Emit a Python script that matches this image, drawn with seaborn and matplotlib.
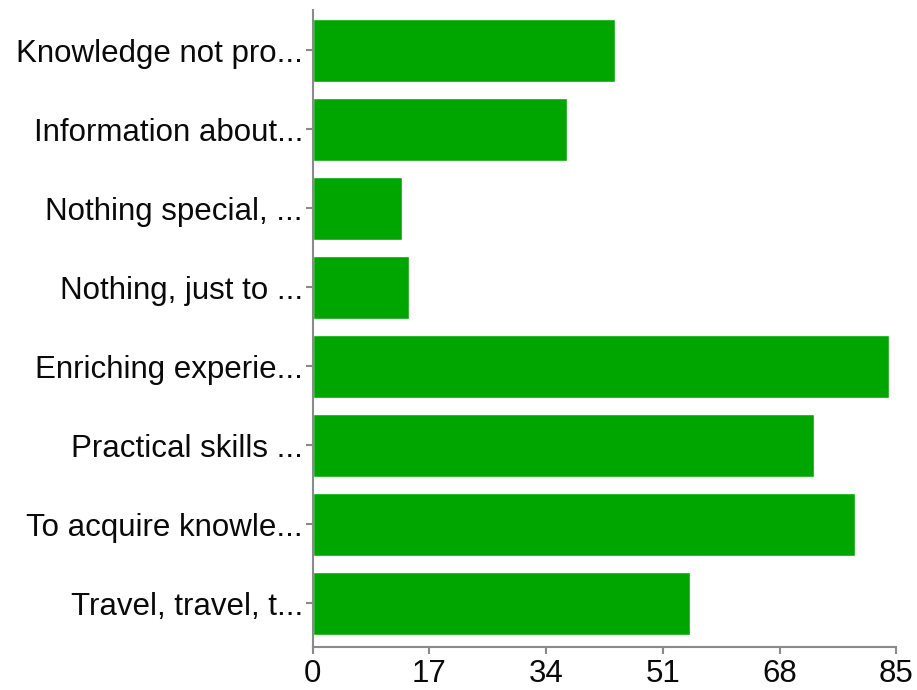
import matplotlib
matplotlib.use("Agg")
import matplotlib.pyplot as plt
import seaborn as sns
import pandas as pd

# answers (truncated like in the original chart) and counts
labels = ["Knowledge not pro...", "Information about...", "Nothing special, ...",
          "Nothing, just to ...", "Enriching experie...", "Practical skills ...",
          "To acquire knowle...", "Travel, travel, t..."]
counts = [44, 37, 13, 14, 84, 73, 79, 55]
x_ticks = [0, 17, 34, 51, 68, 85]

sns.set_style("white")
plt.rcParams['font.family'] = ['Liberation Sans', 'DejaVu Sans']

df = pd.DataFrame({"answer": labels, "count": counts})

fig = plt.figure(figsize=(9.17, 6.9), dpi=100)
ax = fig.add_axes([0.341, 0.0628, 0.6364, 0.9228])

sns.barplot(data=df, x="count", y="answer", orient="h", color="#00a600",
            saturation=1, width=0.8, ax=ax)

ax.set_xlim(0, 85)
ax.set_ylim(7.55, -0.51)
ax.set_xticks(x_ticks)
ax.set_xlabel("")
ax.set_ylabel("")

for s in ["top", "right"]:
    ax.spines[s].set_visible(False)
for s in ["left", "bottom"]:
    ax.spines[s].set_color("#8a8a8a")
    ax.spines[s].set_linewidth(1.5)

ax.tick_params(axis="x", length=5, width=1.5, color="#8a8a8a", pad=4,
               labelsize=22.5, labelcolor="#0a0a0a", bottom=True)
ax.tick_params(axis="y", length=5, width=1.5, color="#8a8a8a", pad=2,
               labelsize=22.5, labelcolor="#0a0a0a", left=True)

fig.savefig("out.png", dpi=100)
